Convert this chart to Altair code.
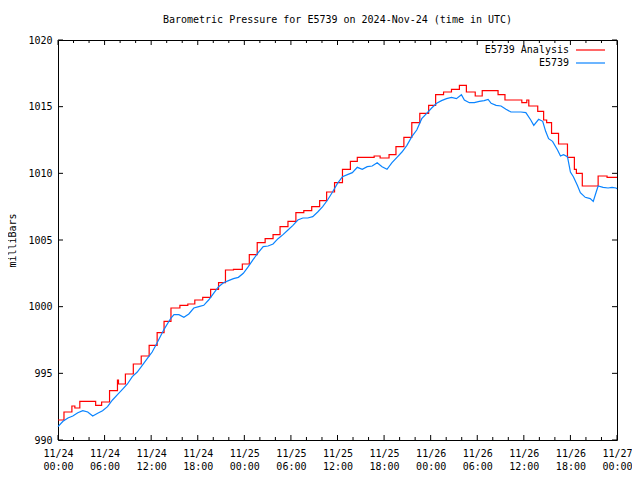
import altair as alt
import pandas as pd

# Analysis (hourly step series): hour offset from 2024-11-24 00:00 UTC, value in mb
red_hours = [0, 0.77, 1.79, 2.17, 2.81, 4.85, 5.62, 6.64, 7.66, 7.79,
             8.68, 9.70, 10.72, 11.74, 12.77, 13.66, 14.55, 15.70, 16.72, 17.62,
             18.64, 19.66, 20.68, 21.57, 22.60, 23.74, 24.64, 25.66, 26.68, 27.70,
             28.60, 29.62, 30.64, 31.66, 32.68, 33.70, 34.60, 35.62, 36.64, 37.66,
             38.55, 40.72, 41.49, 42.64, 43.53, 44.55, 45.57, 46.60, 47.74, 48.64,
             49.66, 50.68, 51.70, 52.60, 53.74, 54.64, 56.68, 57.57, 59.74, 60.38,
             60.64, 61.79, 62.55, 62.94, 63.57, 64.47, 65.62, 66.51, 66.77, 67.53,
             69.57, 70.72, 72]
red_vals = [991.5, 992.1, 992.55, 992.4, 992.9, 992.6, 992.85, 993.7, 994.5, 994.2,
            994.95, 995.7, 996.3, 997.1, 998.05, 998.9, 999.9, 1000.1, 1000.2, 1000.5,
            1000.7, 1001.3, 1001.8, 1002.75, 1002.8, 1003.2, 1003.9, 1004.8, 1005.1, 1005.4,
            1006.0, 1006.4, 1007.05, 1007.2, 1007.5, 1007.95, 1008.6, 1009.3, 1010.3, 1010.9,
            1011.2, 1011.3, 1011.15, 1011.4, 1012.0, 1012.7, 1013.8, 1014.5, 1015.1, 1015.9,
            1016.1, 1016.3, 1016.6, 1016.1, 1015.8, 1016.2, 1015.9, 1015.5, 1015.3, 1015.5,
            1015.05, 1014.65, 1014.0, 1013.8, 1013.0, 1012.2, 1011.2, 1010.3, 1010.0, 1009.05,
            1009.8, 1009.7, 1009.7]

# Station observations
blue_hours = [0, 0.64, 1.28, 1.91, 2.55, 3.19, 3.83, 4.47, 5.11, 5.74,
              6.38, 7.02, 7.66, 8.30, 8.94, 9.57, 10.21, 10.85, 11.49, 12.13,
              12.77, 13.66, 14.55, 14.94, 15.57, 16.21, 16.85, 17.49, 18.13, 18.77,
              19.40, 20.04, 20.68, 21.32, 21.96, 22.60, 23.23, 23.87, 24.51, 25.15,
              25.79, 26.43, 27.06, 27.70, 28.34, 28.98, 29.62, 30.26, 30.89, 31.53,
              32.17, 32.81, 33.45, 34.09, 34.72, 35.36, 36.00, 36.64, 37.28, 37.91,
              38.55, 39.19, 39.83, 40.47, 41.11, 41.74, 42.38, 43.02, 43.66, 44.30,
              44.94, 45.57, 46.21, 46.85, 47.49, 48.13, 48.77, 49.40, 50.04, 50.68,
              51.32, 51.96, 52.34, 52.98, 53.62, 54.26, 54.89, 55.40, 55.79, 56.43,
              57.06, 57.70, 58.34, 58.98, 59.62, 60.26, 60.89, 61.28, 61.91, 62.43,
              62.81, 63.19, 63.70, 64.34, 64.72, 65.11, 65.62, 66.00, 66.38, 66.89,
              67.28, 67.91, 68.55, 68.94, 69.32, 69.57, 70.21, 70.85, 71.36, 71.87, 72]
blue_vals = [991.0, 991.4, 991.65, 991.8, 992.05, 992.2, 992.1, 991.8, 992.0, 992.2,
             992.5, 993.0, 993.4, 993.8, 994.2, 994.75, 995.1, 995.6, 996.1, 996.6,
             997.3, 998.3, 999.15, 999.4, 999.4, 999.2, 999.45, 999.9, 1000.0, 1000.1,
             1000.5, 1001.0, 1001.5, 1001.8, 1001.95, 1002.1, 1002.2, 1002.5, 1003.0, 1003.55,
             1004.05, 1004.5, 1004.55, 1004.7, 1005.1, 1005.4, 1005.75, 1006.1, 1006.5, 1006.65,
             1006.65, 1006.75, 1007.1, 1007.5, 1008.0, 1008.6, 1009.25, 1009.75, 1009.9, 1010.05,
             1010.45, 1010.3, 1010.5, 1010.55, 1010.8, 1010.5, 1010.3, 1010.8, 1011.2, 1011.6,
             1012.1, 1012.75, 1013.25, 1014.1, 1014.5, 1014.9, 1015.25, 1015.45, 1015.6, 1015.7,
             1015.6, 1015.9, 1015.5, 1015.3, 1015.3, 1015.4, 1015.45, 1015.55, 1015.25, 1015.1,
             1015.05, 1014.8, 1014.6, 1014.6, 1014.6, 1014.55, 1014.0, 1013.6, 1014.05, 1013.9,
             1013.15, 1012.6, 1012.4, 1011.75, 1011.3, 1011.4, 1011.25, 1010.1, 1009.75, 1009.1,
             1008.55, 1008.2, 1008.1, 1007.9, 1008.6, 1009.05, 1008.95, 1008.9, 1008.95, 1008.9, 1008.85]

x_major = list(range(0, 73, 6))
x_minor = [h for h in range(0, 73, 2) if h % 6 != 0]
y_ticks = [990, 995, 1000, 1005, 1010, 1015, 1020]

legend_labels = ["E5739 Analysis", "E5739"]
colors = ["#ff0000", "#0a84ff"]

FONT = "DejaVu Sans Mono"
W, H = 559, 400

red_df = pd.DataFrame({"h": red_hours, "p": red_vals})
blue_df = pd.DataFrame({"h": blue_hours, "p": blue_vals})

xscale = alt.Scale(domain=[0, 72], nice=False, zero=False)
yscale = alt.Scale(domain=[990, 1020], nice=False, zero=False)

label_expr = ("['11/' + (24 + floor(datum.value / 24)), "
              "((datum.value % 24) < 10 ? '0' : '') + (datum.value % 24) + ':00']")

xaxis = alt.Axis(values=x_major, labelExpr=label_expr, ticks=False, domain=False, grid=False,
                 title=None, labelFont=FONT, labelFontSize=10, labelColor="black",
                 labelPadding=8, labelLineHeight=13, labelFlush=False, labelOverlap=False)
yaxis = alt.Axis(values=y_ticks, format="d", ticks=False, domain=False, grid=False, title="milliBars",
                 labelFont=FONT, labelFontSize=10, labelColor="black", labelPadding=6,
                 titleFont=FONT, titleFontSize=10, titleFontWeight="normal", titleColor="black",
                 titleX=-46, titleY=200, titleAngle=-90, titleBaseline="middle", titleAlign="center")

red_line = alt.Chart(red_df).mark_line(color=colors[0], strokeWidth=1.2, interpolate="step-after").encode(
    x=alt.X("h:Q", scale=xscale, axis=xaxis),
    y=alt.Y("p:Q", scale=yscale, axis=yaxis),
)
blue_line = alt.Chart(blue_df).mark_line(color=colors[1], strokeWidth=1.2).encode(
    x=alt.X("h:Q", scale=xscale),
    y=alt.Y("p:Q", scale=yscale),
)

xmaj_df = pd.DataFrame({"h": x_major})
xmin_df = pd.DataFrame({"h": x_minor})
yt_df = pd.DataFrame({"p": y_ticks})

def xticks(df, length):
    bottom = alt.Chart(df).mark_rule(color="black", strokeWidth=1).encode(
        x=alt.X("h:Q", scale=xscale), y=alt.value(H), y2=alt.value(H - length))
    top = alt.Chart(df).mark_rule(color="black", strokeWidth=1).encode(
        x=alt.X("h:Q", scale=xscale), y=alt.value(0), y2=alt.value(length))
    return bottom + top

ytick_left = alt.Chart(yt_df).mark_rule(color="black", strokeWidth=1).encode(
    y=alt.Y("p:Q", scale=yscale), x=alt.value(0), x2=alt.value(5))
ytick_right = alt.Chart(yt_df).mark_rule(color="black", strokeWidth=1).encode(
    y=alt.Y("p:Q", scale=yscale), x=alt.value(W), x2=alt.value(W - 5))

leg_df = pd.DataFrame({"label": legend_labels, "color": colors, "ypix": [10, 23]})
leg_text = alt.Chart(leg_df).mark_text(font=FONT, fontSize=10, align="right", baseline="middle",
                                       color="black").encode(
    x=alt.value(W - 48), y=alt.Y("ypix:Q", scale=None), text="label:N")
leg_lines = alt.Chart(leg_df).mark_rule(strokeWidth=1.2).encode(
    x=alt.value(W - 41), x2=alt.value(W - 12), y=alt.Y("ypix:Q", scale=None),
    color=alt.Color("color:N", scale=None, legend=None))

chart = alt.layer(
    red_line, blue_line,
    xticks(xmaj_df, 5), xticks(xmin_df, 3), ytick_left, ytick_right,
    leg_lines, leg_text,
).properties(
    width=W, height=H,
    title=alt.TitleParams("Barometric Pressure for E5739 on 2024-Nov-24 (time in UTC)",
                          font=FONT, fontSize=10, fontWeight="normal", color="black",
                          anchor="middle", baseline="middle", offset=5),
    autosize=alt.AutoSizeParams(type="none"),
    padding={"left": 50, "top": 32, "right": 15, "bottom": 32},
    background="white",
).configure_view(stroke="black", strokeWidth=1)

chart.save("out.html", embed_options={"renderer": "svg", "actions": False})
